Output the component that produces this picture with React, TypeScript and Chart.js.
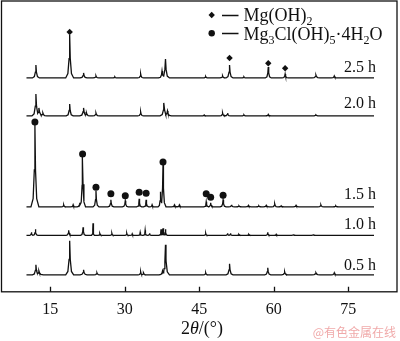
import React, { useEffect, useRef } from "react";
import { Chart, registerables } from "chart.js";

Chart.register(...registerables);

// ---- data ----
const X_MIN = 5.17;
const X_MAX = 84.83;
const X_START = 10.2; // first recorded 2θ
const X_END = 80.2; // last recorded 2θ
const xTicks = [15, 30, 45, 60, 75];

const traceLabels = ["2.5 h", "2.0 h", "1.5 h", "1.0 h", "0.5 h"];
const baselines = [214, 176, 85, 56.5, 17];
const labelY = [224, 188, 97, 67, 26];
const labelX = 80.6;

// peaks: [2θ, intensity above baseline, half-width in degrees]
const peaks25: number[][] = [
  [12.1, 13, 0.7], [18.9, 43, 0.8], [21.7, 5, 0.7], [24.2, 2, 0.6], [28.0, 1, 0.6],
  [33.2, 4, 0.6], [37.5, 7, 0.7], [38.2, 19, 0.8], [46.3, 1.5, 0.6], [49.7, 2, 0.6],
  [51.1, 13, 0.7], [54.0, 1, 0.6], [58.9, 11, 0.6], [62.3, 4, 0.6], [68.5, 3, 0.8],
  [72.2, 2, 0.6],
];
const peaks20: number[][] = [
  [12.1, 22, 0.8], [12.7, 8, 1.0], [13.5, 3, 0.8], [18.9, 12, 0.7], [21.7, 8, 0.8],
  [22.3, 3, 0.7], [24.2, 3, 0.7], [33.2, 4, 0.6], [37.9, 13, 0.8], [38.6, 5, 0.8],
  [46.0, 1, 0.6], [49.7, 3, 0.6], [50.7, 3, 0.6], [54.0, 1, 0.6], [58.9, 1.5, 0.6],
  [68.5, 1, 0.8],
];
const peaks15: number[][] = [
  [11.9, 82, 0.8], [17.7, 2, 0.5], [19.6, 2, 0.5], [20.9, 4, 0.5], [21.5, 50, 0.6],
  [24.2, 16, 0.6], [27.2, 7, 0.6], [30.1, 6, 0.6], [32.9, 8, 0.5], [34.3, 7, 0.5],
  [35.5, 2, 0.5], [37.2, 15, 0.5], [37.7, 42, 0.6], [40.0, 2, 0.6], [41.0, 2, 0.6],
  [46.4, 5, 0.5], [47.3, 4, 0.5], [49.8, 7, 0.6], [51.5, 2, 0.6], [53.0, 1, 0.6],
  [54.9, 1.5, 0.6], [57.0, 1, 0.6], [58.5, 1.5, 0.6], [60.2, 3, 0.6], [61.5, 1, 0.6],
  [64.5, 1.5, 0.6], [69.5, 2, 0.6], [72.5, 1, 0.6],
];
const peaks10: number[][] = [
  [11.2, 3, 0.4], [12.0, 6, 0.5], [18.7, 5, 0.5], [21.6, 8, 0.5], [23.6, 12, 0.3],
  [25.0, 2, 0.4], [27.4, 2, 0.4], [30.4, 2, 0.4], [31.5, 1.5, 0.4], [33.1, 3, 0.4],
  [34.1, 5, 0.4], [35.0, 2, 0.4], [37.3, 6, 0.4], [37.7, 7, 0.4], [38.2, 6, 0.4],
  [46.3, 2, 0.4], [50.7, 2, 0.4], [51.3, 2, 0.4], [53.0, 1, 0.4], [55.0, 1, 0.4],
  [58.8, 3, 0.4], [60.5, 1, 0.4], [64.0, 1, 0.4], [68.0, 1, 0.4],
];
const peaks05: number[][] = [
  [12.1, 10, 0.7], [12.7, 4, 0.9], [18.9, 34, 0.8], [21.7, 5, 0.7], [24.4, 2, 0.6],
  [33.2, 3, 0.5], [33.8, 2, 0.5], [37.6, 4, 0.7], [38.2, 30, 0.8], [46.3, 2, 0.5],
  [51.1, 11, 0.7], [58.8, 7, 0.6], [62.2, 3, 0.6], [68.5, 2, 0.8], [72.2, 2, 0.6],
];
const allPeaks = [peaks25, peaks20, peaks15, peaks10, peaks05];

// phase markers
const mgOH2X = [18.9, 51.1, 58.9, 62.3];
const mgOH2Y = [260, 234, 228.7, 223.7];
const mgClX = [11.9, 21.5, 24.2, 27.2, 30.1, 32.9, 34.3, 37.7, 46.4, 47.3, 49.8];
const mgClY = [170, 138, 104.5, 98, 96, 99.5, 98.5, 130, 98, 94.5, 96.5];

// ---- peak drawing shape (style) ----
const PROFILE = [
  [-1, 0], [-0.45, 0.1], [-0.15, 0.45], [0, 1], [0.15, 0.45], [0.45, 0.1], [1, 0],
];

function profileAt(pk: number[], x: number) {
  const [p, h, w] = pk;
  const d = (x - p) / w;
  if (d <= -1 || d >= 1) return 0;
  for (let i = 0; i < PROFILE.length - 1; i++) {
    const [a, fa] = PROFILE[i];
    const [b, fb] = PROFILE[i + 1];
    if (d >= a && d <= b) return h * (fa + ((d - a) / (b - a)) * (fb - fa));
  }
  return 0;
}

function buildTrace(base: number, peaks: number[][]) {
  const xs = new Set<number>([X_START, X_END]);
  peaks.forEach((pk) =>
    PROFILE.forEach(([dx]) => xs.add(+(pk[0] + dx * pk[2]).toFixed(4)))
  );
  const sorted = [...xs].filter((x) => x >= X_START && x <= X_END).sort((a, b) => a - b);
  return sorted.map((x) => ({
    x,
    y: base + Math.max(0, ...peaks.map((pk) => profileAt(pk, x))),
  }));
}

const SERIF = "'Liberation Serif', 'Times New Roman', serif";

function drawRich(ctx: CanvasRenderingContext2D, x: number, y: number, parts: [string, boolean][], size: number) {
  let cx = x;
  for (const [t, sub] of parts) {
    ctx.font = sub ? `${Math.round(size * 0.68)}px ${SERIF}` : `${size}px ${SERIF}`;
    ctx.fillText(t, cx, sub ? y + size * 0.22 : y);
    cx += ctx.measureText(t).width;
  }
}

const decorPlugin = {
  id: "decor",
  afterDraw(chart: any) {
    const { ctx, chartArea: ca, scales } = chart;
    const xs = scales.x;
    const ys = scales.y;
    ctx.save();
    // frame
    ctx.strokeStyle = "#111";
    ctx.lineWidth = 1.3;
    ctx.strokeRect(ca.left, ca.top, ca.right - ca.left, ca.bottom - ca.top);
    // inward ticks
    ctx.beginPath();
    xTicks.forEach((v) => {
      const px = Math.round(xs.getPixelForValue(v)) + 0.5;
      ctx.moveTo(px, ca.bottom);
      ctx.lineTo(px, ca.bottom - 5);
    });
    ctx.stroke();
    // trace labels
    ctx.fillStyle = "#111";
    ctx.font = `16px ${SERIF}`;
    ctx.textAlign = "right";
    ctx.textBaseline = "middle";
    traceLabels.forEach((t, i) => {
      ctx.fillText(t, xs.getPixelForValue(labelX), ys.getPixelForValue(labelY[i]));
    });
    // legend
    ctx.textAlign = "left";
    ctx.textBaseline = "alphabetic";
    const lx = 211.7;
    ctx.beginPath();
    ctx.moveTo(lx, 15 - 3.2);
    ctx.lineTo(lx + 3.2, 15);
    ctx.lineTo(lx, 15 + 3.2);
    ctx.lineTo(lx - 3.2, 15);
    ctx.closePath();
    ctx.fill();
    ctx.beginPath();
    ctx.arc(lx, 33.3, 3.2, 0, Math.PI * 2);
    ctx.fill();
    ctx.beginPath();
    ctx.moveTo(222, 15.5);
    ctx.lineTo(238.5, 15.5);
    ctx.moveTo(222, 33.5);
    ctx.lineTo(238.5, 33.5);
    ctx.stroke();
    drawRich(ctx, 243.5, 21, [["Mg(OH)", false], ["2", true]], 18);
    drawRich(
      ctx,
      243.5,
      40,
      [["Mg", false], ["3", true], ["Cl(OH)", false], ["5", true], ["\u00b74H", false], ["2", true], ["O", false]],
      18
    );
    // axis title 2θ/(°)
    const parts: [string, string][] = [["2", "normal"], ["\u03b8", "italic"], ["/(\u00b0)", "normal"]];
    let total = 0;
    parts.forEach(([t, st]) => {
      ctx.font = `${st} 18px ${SERIF}`;
      total += ctx.measureText(t).width;
    });
    let tx = 202 - total / 2;
    parts.forEach(([t, st]) => {
      ctx.font = `${st} 18px ${SERIF}`;
      ctx.fillText(t, tx, 334);
      tx += ctx.measureText(t).width;
    });
    // watermark
    ctx.fillStyle = "rgba(235,140,140,0.75)";
    ctx.font = "12px 'Noto Sans CJK SC', sans-serif";
    ctx.textAlign = "right";
    ctx.textBaseline = "middle";
    ctx.fillText("@有色金属在线", 396, 332);
    ctx.restore();
  },
};

export default function App() {
  const ref = useRef<HTMLCanvasElement | null>(null);

  useEffect(() => {
    document.body.style.margin = "0";
    if (!ref.current) return;
    const lineSets = allPeaks.map((pk, i) => ({
      label: traceLabels[i],
      data: buildTrace(baselines[i], pk),
      showLine: true,
      borderColor: "#111",
      borderWidth: 1.3,
      pointRadius: 0,
      tension: 0,
    }));
    const chart = new Chart(ref.current, {
      type: "scatter",
      data: {
        datasets: [
          ...lineSets,
          {
            label: "Mg(OH)2",
            data: mgOH2X.map((x, i) => ({ x, y: mgOH2Y[i] })),
            pointStyle: "rectRot",
            pointRadius: 3.2,
            backgroundColor: "#111",
            borderColor: "#111",
            borderWidth: 0,
          },
          {
            label: "Mg3Cl(OH)5·4H2O",
            data: mgClX.map((x, i) => ({ x, y: mgClY[i] })),
            pointStyle: "circle",
            pointRadius: 3.5,
            backgroundColor: "#111",
            borderColor: "#111",
            borderWidth: 0,
          },
        ],
      } as any,
      options: {
        animation: false,
        responsive: false,
        maintainAspectRatio: false,
        layout: { autoPadding: false, padding: { left: 1.5, right: 3, top: 1, bottom: 14 } },
        plugins: { legend: { display: false }, tooltip: { enabled: false } },
        scales: {
          x: {
            type: "linear",
            min: X_MIN,
            max: X_MAX,
            afterBuildTicks: (s: any) => {
              s.ticks = xTicks.map((v) => ({ value: v }));
            },
            grid: { display: false, drawTicks: false },
            border: { display: false },
            ticks: {
              color: "#111",
              font: { family: SERIF, size: 16 },
              padding: 8,
              maxRotation: 0,
              autoSkip: false,
            },
          },
          y: { type: "linear", display: false, min: 0, max: 291 },
        },
      },
      plugins: [decorPlugin],
    });
    return () => chart.destroy();
  }, []);

  return (
    <div style={{ width: 400, height: 341, background: "#fff" }}>
      <canvas ref={ref} width={400} height={341} style={{ display: "block" }} />
    </div>
  );
}
